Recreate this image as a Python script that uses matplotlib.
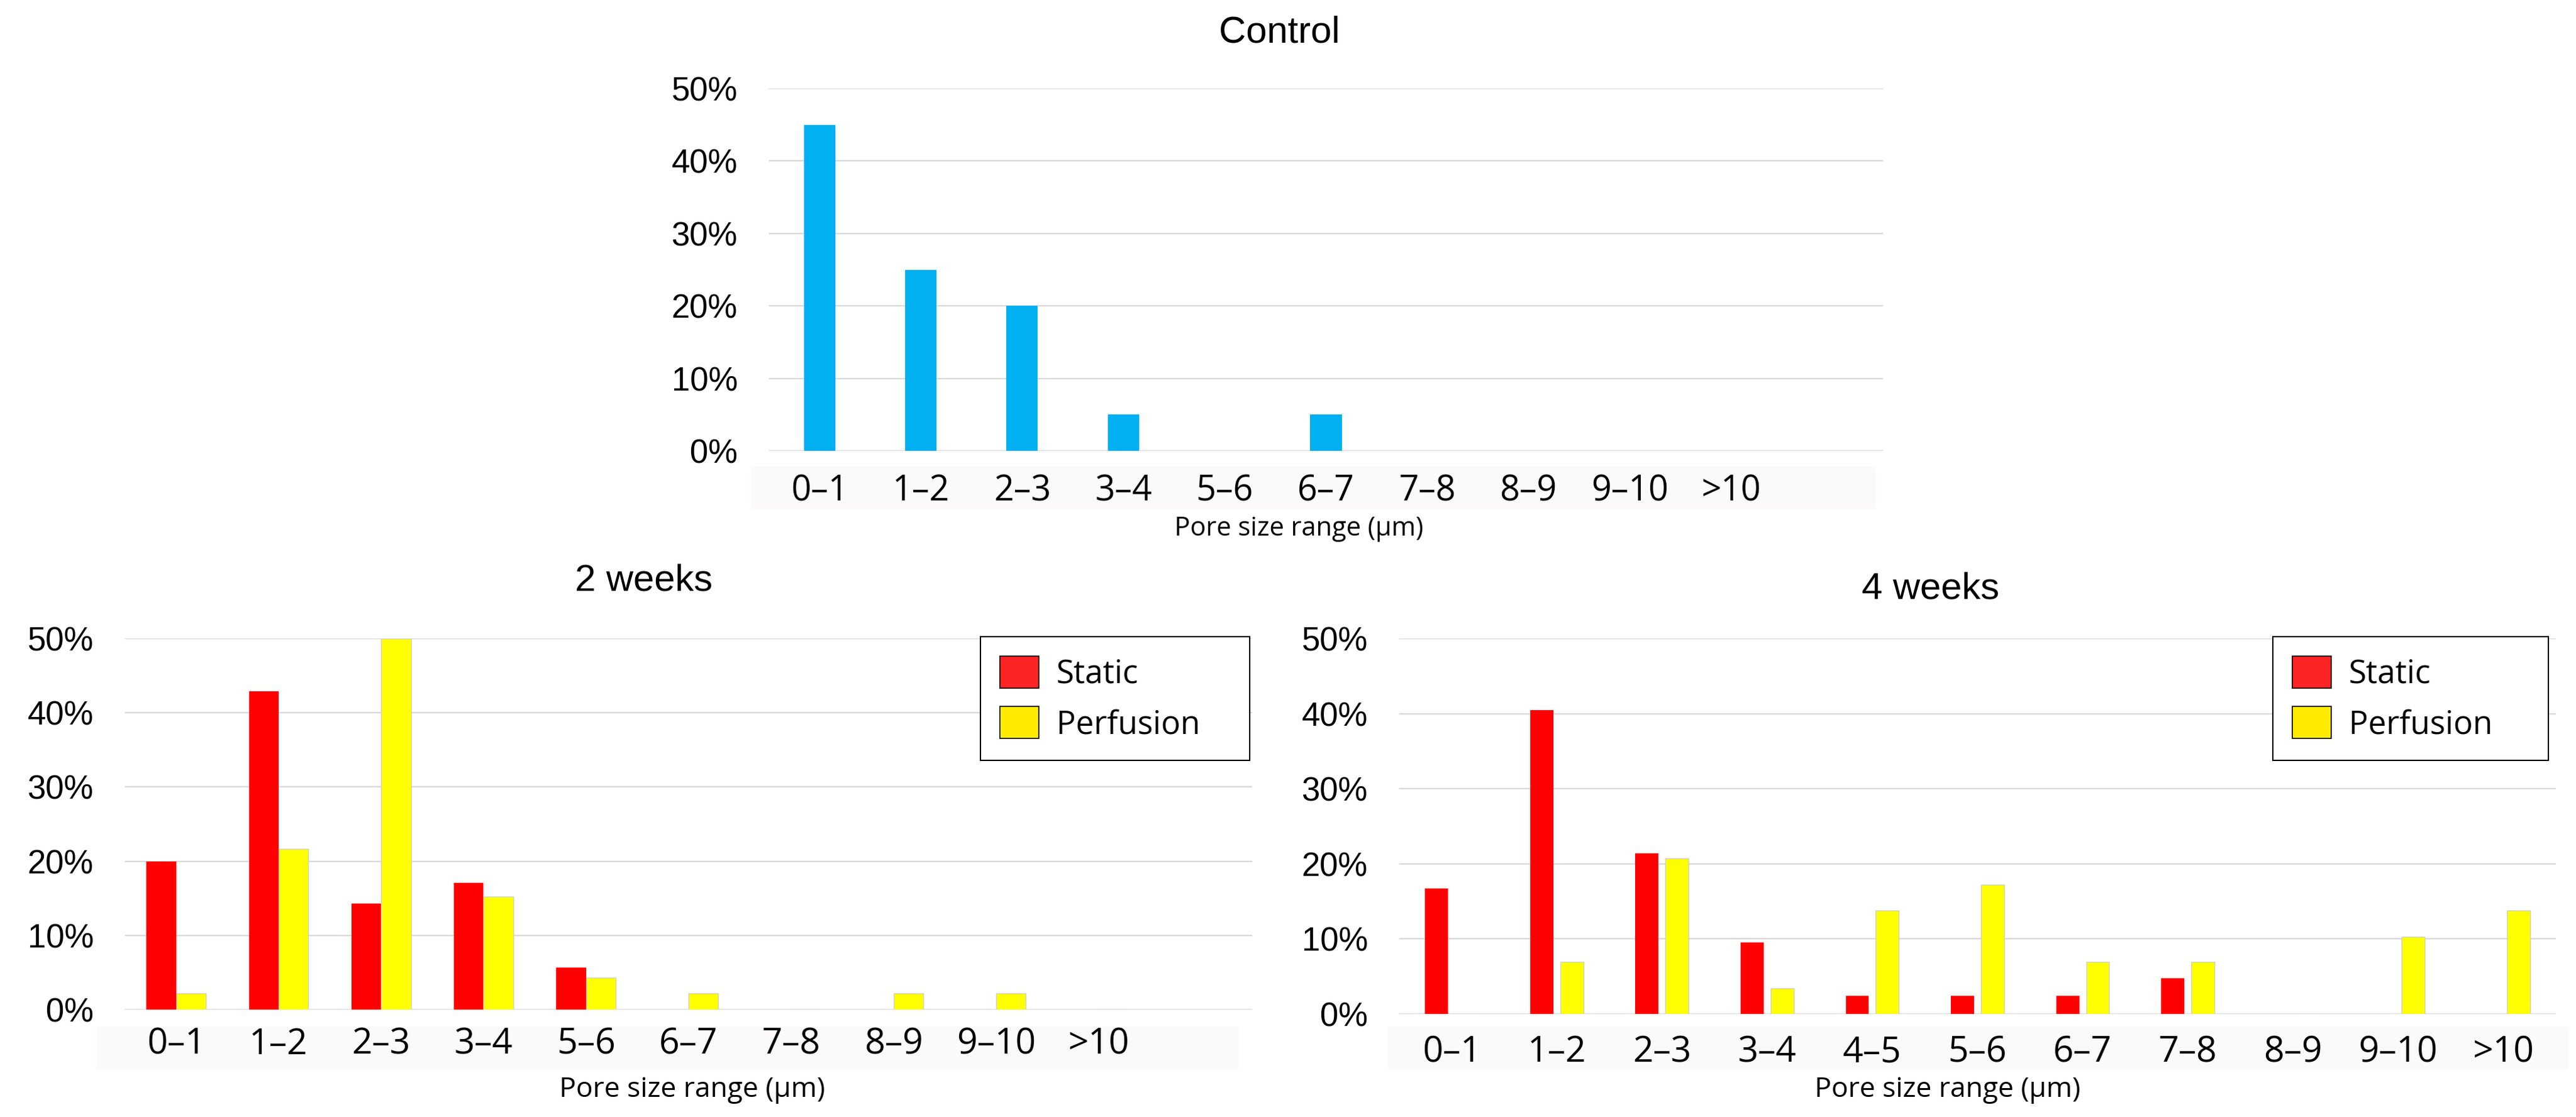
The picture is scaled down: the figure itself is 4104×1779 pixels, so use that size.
import numpy as np
import matplotlib
matplotlib.use('Agg')
import matplotlib.pyplot as plt
from matplotlib.patches import Patch, Rectangle

# categorie (il controllo e le 2 settimane non hanno la classe 4-5)
categories_control = ['0–1', '1–2', '2–3', '3–4', '5–6', '6–7', '7–8', '8–9', '9–10', '>10']
categories_2w = ['0–1', '1–2', '2–3', '3–4', '5–6', '6–7', '7–8', '8–9', '9–10', '>10']
categories_4w = ['0–1', '1–2', '2–3', '3–4', '4–5', '5–6', '6–7', '7–8', '8–9', '9–10', '>10']

# percentuali
control = [45, 25, 20, 5, 0, 5, 0, 0, 0, 0]
static_2w = [20.0, 42.9, 14.3, 17.1, 5.7, 0, 0, 0, 0, 0]
perfusion_2w = [2.2, 21.7, 50.0, 15.2, 4.3, 2.2, 0, 2.2, 2.2, 0]
static_4w = [16.7, 40.5, 21.4, 9.5, 2.4, 2.4, 2.4, 4.8, 0, 0, 0]
perfusion_4w = [0, 6.9, 20.7, 3.4, 13.8, 17.2, 6.9, 6.9, 0, 10.3, 13.8]

yticks = [0, 10, 20, 30, 40, 50]
ytick_labels = ['0%', '10%', '20%', '30%', '40%', '50%']

W, H = 4104, 1779
fig = plt.figure(figsize=(W / 100, H / 100), dpi=100)

TICK_FONT = 'Open Sans'
ARIAL = 'Liberation Sans'


def px_axes(x0, x1, y_top, y_bot):
    # converte pixel dell'immagine in coordinate figura
    return fig.add_axes([x0 / W, 1 - y_bot / H, (x1 - x0) / W, (y_bot - y_top) / H])


def style_axes(ax, labels, pad, band, xsize):
    ax.set_axisbelow(True)
    ax.set_xlim(-0.5, 10.5)
    ax.set_ylim(0, 50)
    ax.set_yticks(yticks)
    ax.set_yticklabels(ytick_labels, fontfamily=ARIAL, fontsize=38)
    ax.set_xticks(np.arange(len(labels)))
    ax.set_xticklabels(labels, fontfamily=TICK_FONT, fontsize=xsize)
    ax.tick_params(axis='y', length=0, pad=36)
    ax.tick_params(axis='x', length=0, pad=pad)
    ax.grid(axis='y', color='#D9D9D9', lw=1.6)
    for s in ax.spines.values():
        s.set_visible(False)
    # banda grigia chiara dietro le etichette dell'asse x
    bx0, bx1, by0, by1 = band
    ax.add_patch(Rectangle((bx0, by1), bx1 - bx0, by0 - by1, transform=ax.transAxes,
                           facecolor='#FBF9FA', edgecolor='none', clip_on=False, zorder=0.1))


def add_legend(ax, x0, x1, y_top):
    handles = [Patch(facecolor='#FF2424', edgecolor='black', lw=1.2, label='Static'),
               Patch(facecolor='#FFEB00', edgecolor='black', lw=1.2, label='Perfusion')]
    leg = ax.legend(handles=handles, loc='upper left', mode='expand',
                    bbox_to_anchor=(x0 / W, 1 - y_top / H, (x1 - x0) / W, 0.0),
                    bbox_transform=fig.transFigure,
                    prop={'family': TICK_FONT, 'size': 37},
                    handlelength=1.2, handleheight=1.15, handletextpad=0.55,
                    labelspacing=0.5, borderpad=0.6, borderaxespad=0,
                    fancybox=False, framealpha=1, edgecolor='black')
    leg.get_frame().set_linewidth(1.5)


# ---------- Control ----------
ax_c = px_axes(1225, 3000, 141, 718)
x = np.arange(len(categories_control))
ax_c.bar(x, control, width=0.31, color='#00B0F0')
style_axes(ax_c, categories_control, pad=26, band=(-0.016, 0.993, -0.043, -0.161), xsize=40)
fig.text(2038 / W, 1 - 52 / H, 'Control', fontfamily=ARIAL, fontsize=43, ha='center', va='center')
fig.text(2069 / W, 1 - 842 / H, 'Pore size range (µm)', fontfamily=TICK_FONT, fontsize=30,
         ha='center', va='center')

# ---------- 2 weeks ----------
ax_2 = px_axes(199, 1995, 1017, 1608)
x = np.arange(len(categories_2w))
ax_2.bar(x - 0.145, static_2w, width=0.29, color='#FF0000')
ax_2.bar(x + 0.145, perfusion_2w, width=0.29, color='#FFFF00', edgecolor='#CFCFCF', lw=1.0)
style_axes(ax_2, categories_2w, pad=20, band=(-0.025, 0.988, -0.046, -0.159), xsize=41)
add_legend(ax_2, 1562, 1991, 1014)
fig.text(1026 / W, 1 - 925 / H, '2 weeks', fontfamily=ARIAL, fontsize=43, ha='center', va='center')
fig.text(1103 / W, 1 - 1736 / H, 'Pore size range (µm)', fontfamily=TICK_FONT, fontsize=32,
         ha='center', va='center')

# ---------- 4 weeks ----------
ax_4 = px_axes(2229, 4072, 1017, 1615)
x = np.arange(len(categories_4w))
ax_4.bar(x - 0.143, static_4w, width=0.22, color='#FF0000')
ax_4.bar(x + 0.143, perfusion_4w, width=0.22, color='#FFFF00', edgecolor='#CFCFCF', lw=1.0)
style_axes(ax_4, categories_4w, pad=24, band=(-0.010, 1.011, -0.033, -0.145), xsize=41)
add_legend(ax_4, 3621, 4060, 1014)
fig.text(3076 / W, 1 - 938 / H, '4 weeks', fontfamily=ARIAL, fontsize=43, ha='center', va='center')
fig.text(3103 / W, 1 - 1736 / H, 'Pore size range (µm)', fontfamily=TICK_FONT, fontsize=32,
         ha='center', va='center')

fig.savefig('out.png', dpi=100)
plt.close(fig)
